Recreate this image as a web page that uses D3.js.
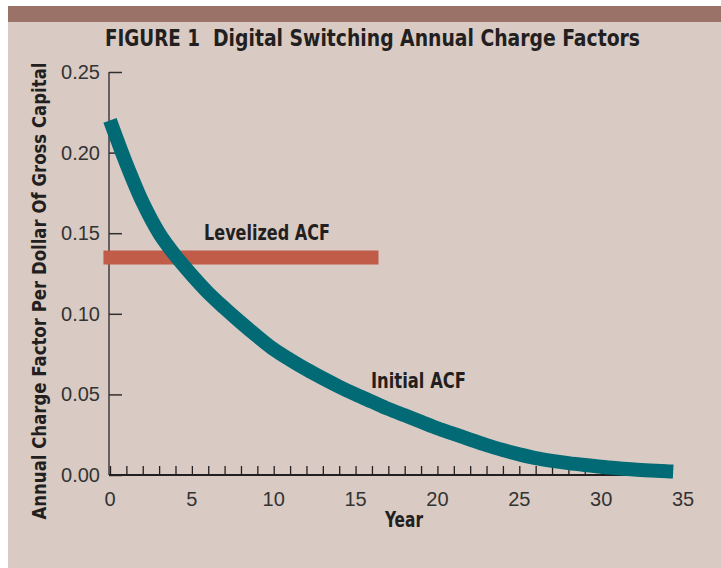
<!DOCTYPE html>
<html>
<head>
<meta charset="utf-8">
<script src="https://cdn.jsdelivr.net/npm/d3@7"></script>
<style>
  body { margin: 0; background: #fff; }
  .cond { font-family: "Liberation Sans Narrow", "DejaVu Sans Condensed", "Roboto Condensed", sans-serif; font-weight: bold; font-stretch: condensed; fill: #231f20; }
  .tick-label { font-family: "Liberation Sans", Arial, sans-serif; font-size: 20px; fill: #333; }
</style>
</head>
<body>
<script>
// data
const years = [0, 1, 2, 3, 4, 5, 6, 7, 8, 9, 10, 11, 12, 13, 14, 15, 16, 17,
  18, 19, 20, 21, 22, 23, 24, 25, 26, 27, 28, 29, 30, 31, 32, 33, 34, 34.4]
const initialAcf = [0.220, 0.193, 0.169, 0.150, 0.136, 0.124, 0.113, 0.1035, 0.0945,
  0.086, 0.078, 0.0715, 0.0655, 0.060, 0.0548, 0.050, 0.0455, 0.041, 0.037, 0.033,
  0.029, 0.0255, 0.022, 0.0185, 0.0155, 0.0128, 0.0105, 0.0088, 0.0074, 0.0062, 0.0051,
  0.0042, 0.0034, 0.0028, 0.0023, 0.0021]
const levelizedYears = [-0.4, 16.4]
const levelizedAcf = 0.135
const xTickLabels = [0, 5, 10, 15, 20, 25, 30, 35]
const yTickLabels = [0, 0.05, 0.10, 0.15, 0.20, 0.25]

const W = 721, H = 568

const svg = d3.select('body').append('svg')
  .attr('width', W)
  .attr('height', H)

// background + top band
svg.append('rect').attr('x', 8).attr('y', 6).attr('width', W - 8).attr('height', H - 6).attr('fill', '#d9cbc4')
svg.append('rect').attr('x', 8).attr('y', 6).attr('width', W - 8).attr('height', 16).attr('fill', '#9a7267')

const x = d3.scaleLinear().domain([0, 35]).range([110, 683])
const y = d3.scaleLinear().domain([0, 0.25]).range([475, 72])

// title
svg.append('text').attr('class', 'cond')
  .attr('x', 105).attr('y', 46)
  .attr('font-size', 23)
  .attr('textLength', 95).attr('lengthAdjust', 'spacingAndGlyphs')
  .text('FIGURE 1')
svg.append('text').attr('class', 'cond')
  .attr('x', 213).attr('y', 46)
  .attr('font-size', 23)
  .attr('textLength', 427).attr('lengthAdjust', 'spacingAndGlyphs')
  .text('Digital Switching Annual Charge Factors')

// y axis
const yAxis = svg.append('g')
  .attr('transform', 'translate(109,0)')
  .call(d3.axisRight(y).tickValues(yTickLabels).tickSize(13).tickFormat(''))
yAxis.select('.domain').attr('stroke', '#4a4446').attr('stroke-width', 1.6)
  .attr('d', 'M0,' + y(0.25) + 'V' + y(0))
yAxis.selectAll('.tick line').attr('stroke', '#332e2f').attr('stroke-width', 1.5)

svg.append('g').selectAll('text')
  .data(yTickLabels)
  .join('text')
  .attr('class', 'tick-label')
  .attr('x', 100)
  .attr('y', d => y(d) + 7)
  .attr('text-anchor', 'end')
  .text(d => d3.format('.2f')(d))

// x axis with inward ticks every year
const xAxis = svg.append('g')
  .attr('transform', 'translate(0,475)')
  .call(d3.axisTop(x).tickValues(d3.range(0, 35)).tickSize(9).tickFormat(''))
xAxis.select('.domain').attr('stroke', '#231f20').attr('stroke-width', 1.8)
  .attr('d', 'M109,0H' + x(34))
xAxis.selectAll('.tick line').attr('stroke', '#231f20').attr('stroke-width', 1.3)

svg.append('g').selectAll('text')
  .data(xTickLabels)
  .join('text')
  .attr('class', 'tick-label')
  .attr('x', d => x(d))
  .attr('y', 506)
  .attr('text-anchor', 'middle')
  .text(d => d)

// axis titles
svg.append('text').attr('class', 'cond')
  .attr('transform', 'translate(46,291) rotate(-90)')
  .attr('text-anchor', 'middle')
  .attr('font-size', 20)
  .attr('textLength', 457).attr('lengthAdjust', 'spacingAndGlyphs')
  .text('Annual Charge Factor Per Dollar Of Gross Capital')

svg.append('text').attr('class', 'cond')
  .attr('x', 385).attr('y', 527)
  .attr('font-size', 21)
  .attr('textLength', 38).attr('lengthAdjust', 'spacingAndGlyphs')
  .text('Year')

// levelized line
svg.append('path')
  .datum(levelizedYears)
  .attr('fill', 'none')
  .attr('stroke', '#c05c47')
  .attr('stroke-width', 14)
  .attr('d', d3.line().x(d => x(d)).y(() => y(levelizedAcf)))

// initial ACF curve
const pts = years.map((yr, i) => [yr, initialAcf[i]])
svg.append('path')
  .datum(pts)
  .attr('fill', 'none')
  .attr('stroke', '#016a75')
  .attr('stroke-width', 14)
  .attr('stroke-linejoin', 'round')
  .attr('d', d3.line().x(d => x(d[0])).y(d => y(d[1])).curve(d3.curveCatmullRom))

// series labels
svg.append('text').attr('class', 'cond')
  .attr('x', 204).attr('y', 240)
  .attr('font-size', 21)
  .attr('textLength', 126).attr('lengthAdjust', 'spacingAndGlyphs')
  .text('Levelized ACF')

svg.append('text').attr('class', 'cond')
  .attr('x', 371).attr('y', 388)
  .attr('font-size', 21)
  .attr('textLength', 95).attr('lengthAdjust', 'spacingAndGlyphs')
  .text('Initial ACF')
</script>
</body>
</html>
